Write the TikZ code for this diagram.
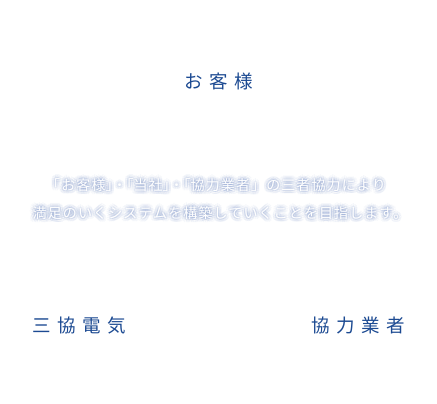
\documentclass[tikz,border=0pt]{standalone}
\usepackage{fontspec}
\setmainfont{Noto Sans CJK JP}
\newfontfamily\jpwide{Noto Sans CJK JP}[LetterSpace=35]
\newfontfamily\jpmsg{Noto Sans CJK JP}[LetterSpace=8]
\newfontfamily\jpmsghalt{Noto Sans CJK JP}[LetterSpace=8,RawFeature=+halt]
\newcommand{\hp}[1]{{\jpmsghalt #1}}
\definecolor{navy}{RGB}{28,74,146}
\definecolor{glowc}{RGB}{150,170,215}
\newcommand{\msgone}{「お客様\hp{」}・\hp{「}当社\hp{」}・\hp{「}協力業者」の三者協力により}
\newcommand{\msgtwo}{満足のいくシステムを構築していくことを目指します。}
\begin{document}
\begin{tikzpicture}[x=1pt,y=1pt,
  party/.style={text=navy,font=\jpwide\fontsize{18.5}{20}\selectfont,inner sep=0pt,anchor=center},
  msgbase/.style={inner sep=0pt,font=\jpmsg\fontsize{14}{16}\selectfont},
  glowst/.style={text=glowc,opacity=0.10},
  frontst/.style={text=white}]
\useasboundingbox (0,0) rectangle (437,404);
\fill[white] (0,0) rectangle (437,404);
\node[party] (customer) at (219,323) {お客様};
\node[party] (sankyo) at (79.5,78) {三協電気};
\node[party] (partner) at (358,78) {協力業者};
\foreach \a in {0,30,...,330}{
  \foreach \r in {1.5,3.5}{
    \begin{scope}[shift={(\a:\r)}]
      \node[msgbase,glowst] at (216,219) {\msgone};
      \node[msgbase,glowst] at (220,191) {\msgtwo};
    \end{scope}
  }
}
\node[msgbase,frontst] (line1) at (216,219) {\msgone};
\node[msgbase,frontst] (line2) at (220,191) {\msgtwo};
\end{tikzpicture}
\end{document}
